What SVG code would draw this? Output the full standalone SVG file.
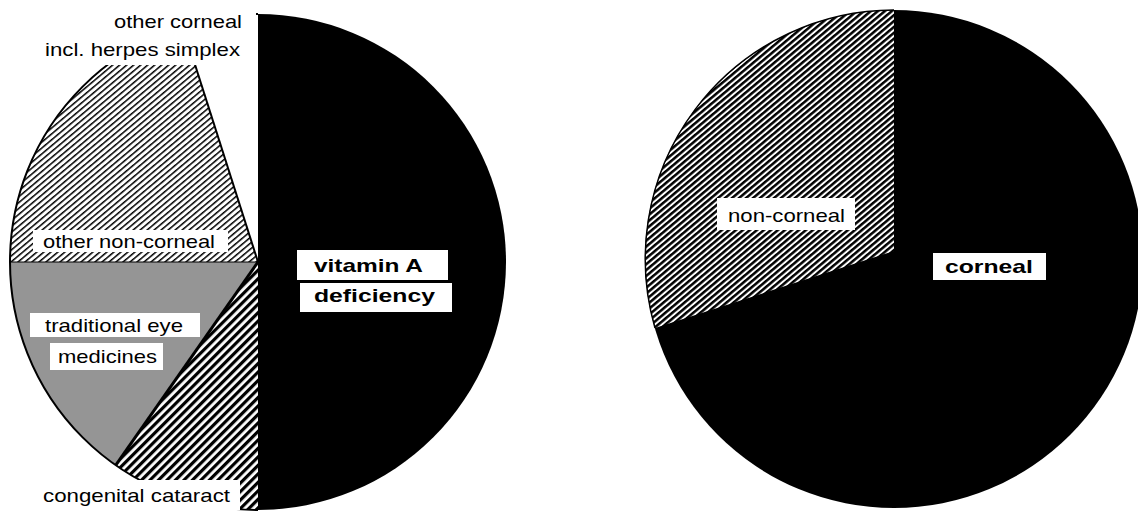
<svg xmlns="http://www.w3.org/2000/svg" width="1138" height="514" viewBox="0 0 1138 514">
  <style>
    .lbl { font-family: "Liberation Sans", Arial, sans-serif; font-size: 19px; fill: #000; }
    .bold { font-weight: bold; }
    .box { fill: #fff; stroke: none; }
    .edge { fill: none; stroke: #000; }
  </style>
  <defs>
    <pattern id="hatchLight" patternUnits="userSpaceOnUse" width="4.5" height="4.5" patternTransform="rotate(50)">
      <rect width="4.5" height="4.5" fill="#fff"/>
      <rect x="0" y="0" width="1.5" height="4.5" fill="#000"/>
    </pattern>
    <pattern id="hatchMed" patternUnits="userSpaceOnUse" width="4.5" height="4.5" patternTransform="rotate(50)">
      <rect width="4.5" height="4.5" fill="#fff"/>
      <rect x="0" y="0" width="2.5" height="4.5" fill="#000"/>
    </pattern>
    <pattern id="hatchBold" patternUnits="userSpaceOnUse" width="6" height="6" patternTransform="rotate(45)">
      <rect width="6" height="6" fill="#fff"/>
      <rect x="0" y="0" width="3.2" height="6" fill="#000"/>
    </pattern>
  </defs>
  <rect width="1138" height="514" fill="#fff"/>

  <!-- Left pie -->
  <g id="left-pie">
    <g id="slice-vitaminA">
      <path d="M258,262 L258,14 A248,248 0 0 1 258,510 Z" fill="#000"/>
    </g>
    <g id="slice-cataract">
      <path d="M258,262 L258,510 A248,248 0 0 1 115.8,465.1 Z" fill="url(#hatchBold)"/>
    </g>
    <g id="slice-traditional">
      <path d="M258,262 L115.8,465.1 A248,248 0 0 1 10,262 Z" fill="#959595"/>
    </g>
    <g id="slice-other-noncorneal">
      <path d="M258,262 L10,262 A248,248 0 0 1 182.6,25.7 Z" fill="url(#hatchLight)"/>
    </g>
    <g id="slice-other-corneal">
      <path d="M258,262 L182.6,25.7 A248,248 0 0 1 258,14 Z" fill="#fff"/>
    </g>
    <g id="left-edges">
      <path class="edge" d="M258,510 A248,248 0 0 1 258,14" stroke-width="2"/>
      <line x1="258" y1="262" x2="115.8" y2="465.1" stroke="#000" stroke-width="3"/>
      <line x1="258" y1="262" x2="10" y2="262" stroke="#000" stroke-width="1.2"/>
      <line x1="258" y1="262" x2="182.6" y2="25.7" stroke="#000" stroke-width="2"/>
    </g>

    <g id="label-other-corneal">
      <rect class="box" x="40" y="4" width="216" height="61"/>
      <text class="lbl" x="242" y="28" text-anchor="end" textLength="128" lengthAdjust="spacingAndGlyphs">other corneal</text>
      <text class="lbl" x="240" y="56" text-anchor="end" textLength="195" lengthAdjust="spacingAndGlyphs">incl. herpes simplex</text>
    </g>
    <g id="label-other-noncorneal">
      <rect class="box" x="33" y="230" width="195" height="22"/>
      <text class="lbl" x="43" y="248" textLength="172" lengthAdjust="spacingAndGlyphs">other non-corneal</text>
    </g>
    <g id="label-traditional">
      <rect class="box" x="30" y="313" width="170" height="24"/>
      <text class="lbl" x="45" y="332" textLength="138" lengthAdjust="spacingAndGlyphs">traditional eye</text>
      <rect class="box" x="50" y="343" width="113" height="27"/>
      <text class="lbl" x="58" y="363" textLength="99" lengthAdjust="spacingAndGlyphs">medicines</text>
    </g>
    <g id="label-cataract">
      <rect class="box" x="38" y="480" width="202" height="30"/>
      <text class="lbl" x="43" y="502" textLength="187" lengthAdjust="spacingAndGlyphs">congenital cataract</text>
    </g>
    <g id="label-vitaminA">
      <rect class="box" x="297" y="250" width="151" height="30"/>
      <text class="lbl bold" x="314" y="272" textLength="109" lengthAdjust="spacingAndGlyphs">vitamin A</text>
      <rect class="box" x="300" y="283" width="152" height="29"/>
      <text class="lbl bold" x="314" y="302" textLength="121" lengthAdjust="spacingAndGlyphs">deficiency</text>
    </g>
  </g>

  <!-- Right pie -->
  <g id="right-pie">
    <g id="slice-corneal">
      <circle cx="894" cy="259" r="249" fill="#000"/>
    </g>
    <g id="slice-noncorneal">
      <path d="M894,251 L894,10 A249,249 0 0 0 655,328 Z" fill="url(#hatchMed)"/>
      <path class="edge" d="M894,10 A249,249 0 0 0 655,328" stroke-width="1.5"/>
    </g>
    <g id="label-noncorneal">
      <rect class="box" x="717" y="198" width="138" height="32"/>
      <text class="lbl" x="728" y="222" textLength="117" lengthAdjust="spacingAndGlyphs">non-corneal</text>
    </g>
    <g id="label-corneal">
      <rect class="box" x="933" y="253" width="113" height="27"/>
      <text class="lbl bold" x="945" y="273" textLength="88" lengthAdjust="spacingAndGlyphs">corneal</text>
    </g>
  </g>

  <g id="connectors"/>
</svg>
